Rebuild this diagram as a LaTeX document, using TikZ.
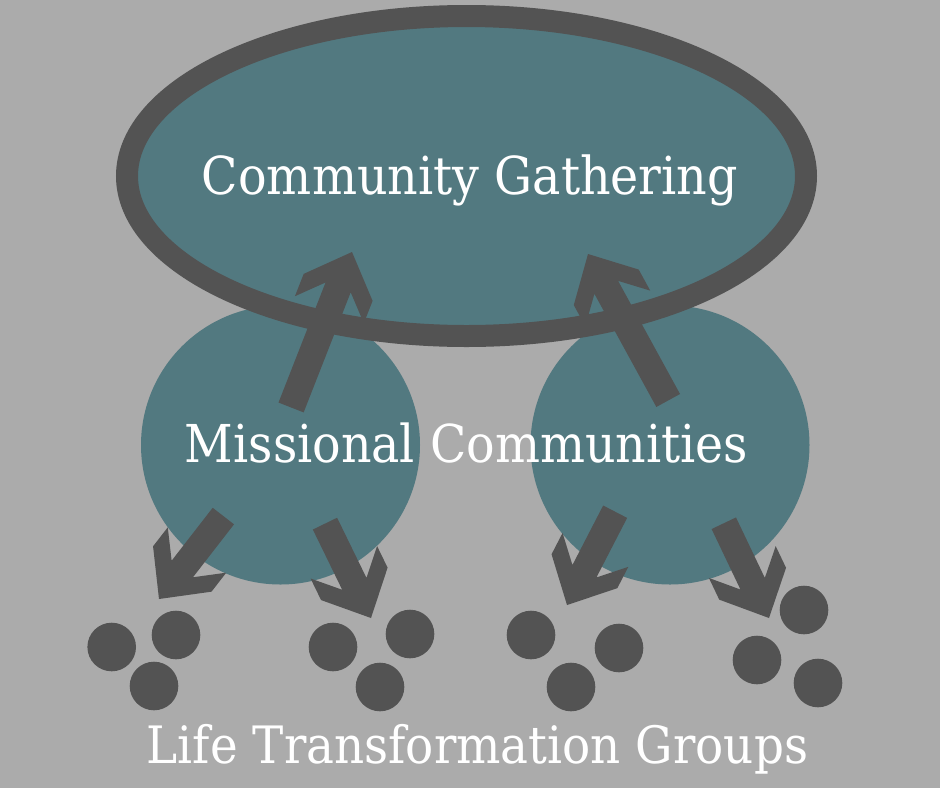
\documentclass[tikz,border=0pt]{standalone}
\usepackage{fontspec}
\setmainfont{DejaVu Serif}
\usetikzlibrary{shapes.geometric}
\definecolor{bgc}{HTML}{ABABAB}
\definecolor{tealc}{HTML}{527980}
\definecolor{dk}{HTML}{535353}
\newcommand\chevarrow[5]{%
  \coordinate (#1) at (#2,#3);
  \fill[dk, shift={(#1)}, rotate=#4]
    (0,0) -- (-38,-37) -- (-62,-37) -- (-38,-13.5) -- (-#5,-13.5)
    -- (-#5,13.5) -- (-38,13.5) -- (-62,37) -- (-38,37) -- cycle;}
\tikzset{
  mc/.style={circle, fill=tealc, minimum size=279pt, inner sep=0pt},
  gather/.style={ellipse, draw=dk, line width=22pt, fill=tealc,
    minimum width=679pt, minimum height=320pt, inner sep=0pt},
  dot/.style={circle, fill=dk, minimum size=48.6pt, inner sep=0pt},
  txt/.style={text=white, inner sep=0pt, anchor=base}
}
\begin{document}
\begin{tikzpicture}[x=1pt,y=-1pt]
\fill[bgc] (0,0) rectangle (940,788);
\useasboundingbox (0,0) rectangle (940,788);
% missional community circles
\node[mc] (mcl) at (280.5,445) {};
\node[mc] (mcr) at (670,445) {};
% community gathering ellipse
\node[gather] (cg) at (466.5,176) {};
% texts
\node[txt] (cgt) at (470,194) {\scalebox{1}[1.1]{\resizebox{536pt}{!}{Community Gathering}}};
\node[txt] (mct) at (466.5,462) {\scalebox{1}[1.1]{\resizebox{563pt}{!}{Missional Communities}}};
\node[txt] (ltg) at (477.5,763) {\scalebox{1}[1.1]{\resizebox{661pt}{!}{Life Transformation Groups}}};
% arrows
\chevarrow{a1}{352}{252}{68.6}{167}
\chevarrow{a2}{588}{254}{118.7}{167}
\chevarrow{a3}{159}{599}{-127.8}{105}
\chevarrow{a4}{371}{618}{-64.0}{105}
\chevarrow{a5}{567}{605}{-117.3}{105}
\chevarrow{a6}{769}{618}{-64.5}{105}
% life transformation group dots
\node[dot] (g1a) at (111.7,647) {};
\node[dot] (g1b) at (176,635) {};
\node[dot] (g1c) at (154,686) {};
\node[dot] (g2a) at (333,647) {};
\node[dot] (g2b) at (410,634) {};
\node[dot] (g2c) at (380,687) {};
\node[dot] (g3a) at (531,635) {};
\node[dot] (g3b) at (619,648) {};
\node[dot] (g3c) at (571,687) {};
\node[dot] (g4a) at (804,610) {};
\node[dot] (g4b) at (757,660) {};
\node[dot] (g4c) at (818,683) {};
\end{tikzpicture}
\end{document}
